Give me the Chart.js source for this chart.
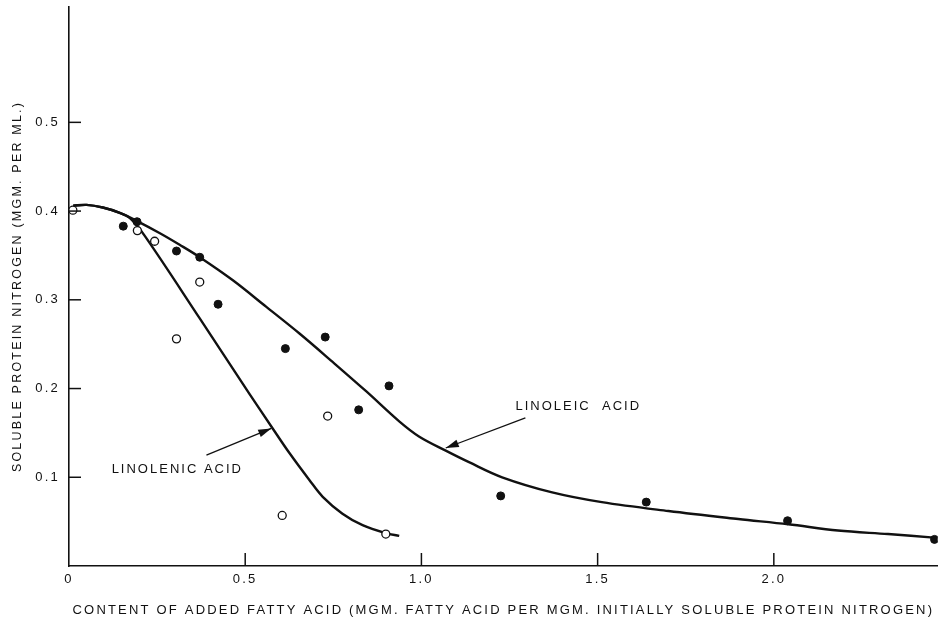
<!DOCTYPE html>
<html>
<head>
<meta charset="utf-8">
<script src="https://cdn.jsdelivr.net/npm/chart.js@4"></script>
<style>
  body { margin: 0; background: #fff; }
  #wrap { width: 943px; height: 624px; }
</style>
</head>
<body>
<div id="wrap"><canvas id="graphCanvas" width="943" height="624"></canvas></div>
<script>
// tick values and labels
const xTicks = [0, 0.5, 1.0, 1.5, 2.0];
const xTickLabels = ['0', '0.5', '1.0', '1.5', '2.0'];
const yTicks = [0.1, 0.2, 0.3, 0.4, 0.5];
const yTickLabels = ['0.1', '0.2', '0.3', '0.4', '0.5'];

// measured points (filled = linoleic, open = linolenic)
const linoleicX = [0.154, 0.193, 0.305, 0.371, 0.423, 0.614, 0.727, 0.822, 0.908, 1.225, 1.638, 2.039, 2.456];
const linoleicY = [0.383, 0.388, 0.355, 0.348, 0.295, 0.245, 0.258, 0.176, 0.203, 0.079, 0.072, 0.051, 0.030];
const linolenicX = [0.011, 0.194, 0.243, 0.305, 0.371, 0.605, 0.734, 0.899];
const linolenicY = [0.401, 0.378, 0.366, 0.256, 0.320, 0.057, 0.169, 0.036];

// hand drawn curves
const linoleicCurveX = [0.012, 0.050, 0.096, 0.144, 0.192, 0.258, 0.314, 0.371, 0.465, 0.560, 0.654, 0.748, 0.843, 0.937, 0.993, 1.069, 1.135, 1.229, 1.371, 1.512, 1.701, 1.899, 2.041, 2.182, 2.324, 2.454];
const linoleicCurveY = [0.406, 0.407, 0.404, 0.398, 0.389, 0.375, 0.362, 0.348, 0.322, 0.292, 0.262, 0.230, 0.197, 0.163, 0.146, 0.130, 0.117, 0.100, 0.083, 0.072, 0.062, 0.053, 0.047, 0.040, 0.036, 0.032];
const linolenicCurveX = [0.012, 0.050, 0.096, 0.144, 0.173, 0.215, 0.371, 0.512, 0.578, 0.626, 0.682, 0.720, 0.776, 0.833, 0.899, 0.937];
const linolenicCurveY = [0.406, 0.407, 0.404, 0.398, 0.392, 0.372, 0.279, 0.194, 0.155, 0.127, 0.097, 0.078, 0.059, 0.046, 0.037, 0.034];

const FONT = 'Liberation Sans, Arial, sans-serif';

function pairs(xs, ys) {
    return xs.map(function (x, i) { return { x: x, y: ys[i] }; });
}

function arrow(ctx, x1, y1, x2, y2) {
    ctx.beginPath();
    ctx.moveTo(x1, y1);
    ctx.lineTo(x2, y2);
    ctx.stroke();
    const a = Math.atan2(y2 - y1, x2 - x1);
    const len = 13, half = 4;
    ctx.beginPath();
    ctx.moveTo(x2, y2);
    ctx.lineTo(x2 - len * Math.cos(a) + half * Math.sin(a), y2 - len * Math.sin(a) - half * Math.cos(a));
    ctx.lineTo(x2 - len * Math.cos(a) - half * Math.sin(a), y2 - len * Math.sin(a) + half * Math.cos(a));
    ctx.closePath();
    ctx.fill();
}

// ticks pointing into the plot, plus the two labels with arrows
const figureExtras = {
    id: 'figureExtras',
    beforeDraw: function (chart) {
        chart.ctx.letterSpacing = '2.2px';
    },
    afterDraw: function (chart) {
        const ctx = chart.ctx;
        const x = chart.scales.x, y = chart.scales.y;
        const area = chart.chartArea;
        ctx.save();
        ctx.strokeStyle = '#111';
        ctx.fillStyle = '#111';
        ctx.lineWidth = 1.5;
        xTicks.forEach(function (v) {
            if (v === 0) return;
            const px = x.getPixelForValue(v);
            ctx.beginPath();
            ctx.moveTo(px, area.bottom);
            ctx.lineTo(px, area.bottom - 13);
            ctx.stroke();
        });
        yTicks.forEach(function (v) {
            const py = y.getPixelForValue(v);
            ctx.beginPath();
            ctx.moveTo(area.left, py);
            ctx.lineTo(area.left + 12, py);
            ctx.stroke();
        });

        ctx.font = '13px ' + FONT;
        ctx.letterSpacing = '2px';
        ctx.textBaseline = 'middle';
        ctx.textAlign = 'left';
        ctx.fillText('LINOLEIC  ACID', x.getPixelForValue(1.267), y.getPixelForValue(0.180));
        ctx.fillText('LINOLENIC ACID', x.getPixelForValue(0.121), y.getPixelForValue(0.109));

        ctx.lineWidth = 1.3;
        arrow(ctx, x.getPixelForValue(1.295), y.getPixelForValue(0.167), x.getPixelForValue(1.069), y.getPixelForValue(0.133));
        arrow(ctx, x.getPixelForValue(0.390), y.getPixelForValue(0.125), x.getPixelForValue(0.574), y.getPixelForValue(0.155));
        ctx.restore();
        ctx.letterSpacing = '0px';
    }
};

const curveStyle = {
    type: 'line',
    borderColor: '#111',
    borderWidth: 2.4,
    pointRadius: 0,
    fill: false,
    tension: 0.35
};

const ctx = document.getElementById('graphCanvas').getContext('2d');
const myChart = new Chart(ctx, {
    type: 'scatter',
    data: {
        datasets: [{
            label: 'Linoleic acid',
            data: pairs(linoleicX, linoleicY),
            pointRadius: 4,
            pointBackgroundColor: '#111',
            pointBorderColor: '#111',
            pointBorderWidth: 1
        }, {
            label: 'Linolenic acid',
            data: pairs(linolenicX, linolenicY),
            pointRadius: 4,
            pointBackgroundColor: '#fff',
            pointBorderColor: '#111',
            pointBorderWidth: 1.3
        }, Object.assign({
            label: 'Linoleic curve',
            data: pairs(linoleicCurveX, linoleicCurveY)
        }, curveStyle), Object.assign({
            label: 'Linolenic curve',
            data: pairs(linolenicCurveX, linolenicCurveY)
        }, curveStyle)]
    },
    options: {
        responsive: false,
        animation: false,
        layout: { padding: { top: 7, right: 3, left: 0, bottom: 0 } },
        plugins: {
            legend: { display: false },
            tooltip: { enabled: false }
        },
        scales: {
            x: {
                type: 'linear',
                min: 0,
                max: 2.465,
                afterFit: function (s) {
                    s.height = 58;
                    s.paddingLeft = 0;
                    s.paddingRight = 0;
                },
                afterBuildTicks: function (s) {
                    s.ticks = xTicks.map(function (v) { return { value: v }; });
                },
                grid: { display: true, drawOnChartArea: false, drawTicks: false },
                border: { display: true, color: '#111', width: 1.6 },
                ticks: {
                    padding: 6,
                    color: '#111',
                    font: { family: FONT, size: 13 },
                    maxRotation: 0,
                    callback: function (v, i) { return xTickLabels[i]; }
                },
                title: {
                    display: true,
                    text: 'CONTENT OF ADDED FATTY ACID (MGM. FATTY ACID PER MGM. INITIALLY SOLUBLE PROTEIN NITROGEN)',
                    color: '#111',
                    font: { family: FONT, size: 13 },
                    padding: { top: 0, bottom: 6 }
                }
            },
            y: {
                type: 'linear',
                min: 0,
                max: 0.63,
                afterFit: function (s) {
                    s.width = 69;
                    s.paddingTop = 0;
                    s.paddingBottom = 0;
                },
                afterBuildTicks: function (s) {
                    s.ticks = yTicks.map(function (v) { return { value: v }; });
                },
                grid: { display: true, drawOnChartArea: false, drawTicks: false },
                border: { display: true, color: '#111', width: 1.6 },
                ticks: {
                    padding: 9,
                    color: '#111',
                    font: { family: FONT, size: 13 },
                    callback: function (v, i) { return yTickLabels[i]; }
                },
                title: {
                    display: true,
                    text: 'SOLUBLE PROTEIN NITROGEN (MGM. PER ML.)',
                    color: '#111',
                    font: { family: FONT, size: 12.5 },
                    padding: { top: 10, bottom: 0 }
                }
            }
        }
    },
    plugins: [figureExtras]
});
</script>
</body>
</html>
